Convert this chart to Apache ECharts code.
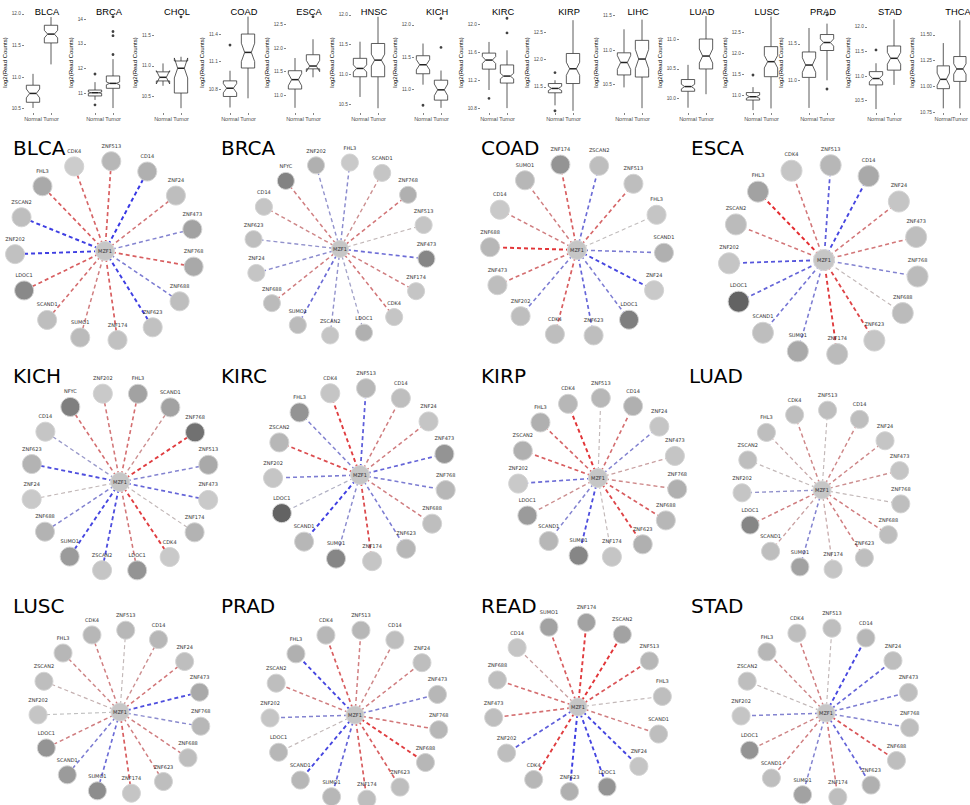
<!DOCTYPE html>
<html><head><meta charset="utf-8">
<script src="https://cdn.jsdelivr.net/npm/echarts@6/dist/echarts.min.js"></script>
<style>html,body{margin:0;padding:0;background:#fff}#c{width:970px;height:805px}</style>
</head><body><div id="c"></div>
<script>
// ================= Boxplot data (log2 read counts) =================
const boxCancers = ['BLCA','BRCA','CHOL','COAD','ESCA','HNSC','KICH','KIRC','KIRP','LIHC','LUAD','LUSC','PRAD','STAD','THCA'];
const groups = ['Normal','Tumor'];
// [whiskerLow, Q1, notchLow, median, notchHigh, Q3, whiskerHigh]
const normalStats = [
  [10.51,10.60,10.67,10.74,10.81,10.87,11.05],
  [10.73,10.89,10.99,11.02,11.05,11.13,11.45],
  [10.67,10.75,10.70,10.81,10.92,10.90,11.04],
  [10.60,10.72,10.76,10.81,10.86,10.89,11.00],
  [10.73,11.13,11.20,11.33,11.46,11.52,11.79],
  [10.62,10.96,11.04,11.10,11.16,11.27,11.55],
  [11.07,11.24,11.30,11.38,11.46,11.52,11.71],
  [11.06,11.36,11.44,11.49,11.54,11.59,11.75],
  [11.16,11.39,11.43,11.47,11.51,11.56,11.62],
  [10.46,10.64,10.72,10.82,10.92,10.96,11.30],
  [9.84,10.12,10.16,10.20,10.24,10.32,10.57],
  [10.64,10.88,10.92,10.96,11.00,11.06,11.19],
  [10.62,11.04,11.11,11.21,11.31,11.39,11.72],
  [10.33,10.82,10.88,10.95,11.02,11.09,11.26],
  [10.79,10.98,11.01,11.07,11.13,11.20,11.42]
];
const tumorStats = [
  [11.20,11.54,11.62,11.68,11.74,11.82,11.95],
  [10.40,11.20,11.34,11.40,11.46,11.70,12.38],
  [10.30,10.55,10.80,10.96,11.13,11.08,11.15],
  [10.70,11.03,11.10,11.20,11.30,11.40,11.59],
  [11.38,11.56,11.50,11.62,11.74,11.86,12.19],
  [10.43,10.96,11.14,11.24,11.34,11.52,11.97],
  [10.71,10.83,10.90,10.99,11.08,11.14,11.29],
  [10.80,11.16,11.22,11.26,11.30,11.42,11.63],
  [11.06,11.56,11.71,11.83,11.95,12.11,12.72],
  [10.16,10.61,10.73,10.87,11.01,11.14,11.44],
  [10.07,10.50,10.60,10.72,10.84,11.01,11.40],
  [10.68,11.44,11.65,11.80,11.95,12.16,12.88],
  [11.00,11.41,11.47,11.52,11.57,11.63,11.78],
  [10.82,11.12,11.24,11.36,11.48,11.61,12.15],
  [10.79,11.05,11.12,11.17,11.22,11.29,11.64]
];
const normalOutliers = [[],[11.78,10.53],[],[11.28],[],[],[10.75],[10.94],[11.76,11.06],[],[],[11.48],[],[11.53],[]];
const tumorOutliers  = [[],[14.10,13.50,13.33,12.57],[11.81],[],[12.67],[],[12.10,11.65],[12.09,11.88],[],[],[],[],[11.90,10.88],[],[]];
const yRanges = [[10.43,12.03],[10.20,14.29],[10.22,11.89],[10.54,11.64],[10.62,12.77],[10.35,12.05],[10.63,12.20],[10.73,12.18],[11.02,12.87],[10.09,11.55],[9.75,11.47],[10.57,12.99],[10.55,11.94],[10.25,12.30],[10.745,11.72]];
const yTickLabels = [
  ['10.5','11.0','11.5','12.0'],['11','12','13','14'],['10.5','11.0','11.5'],['10.8','11.1','11.4'],
  ['11.0','11.5','12.0','12.5'],['10.5','11.0','11.5','12.0'],['11.0','11.5','12.0'],['10.8','11.2','11.6','12.0'],
  ['11.5','12.0','12.5'],['10.5','11.0','11.5'],['10.0','10.5','11.0'],['11.0','11.5','12.0','12.5'],
  ['11.0','11.5'],['10.5','11.0','11.5','12.0'],['10.75','11.00','11.25','11.50']
];

// ================= Network data =================
// genes clockwise; expr: node shade level (0 light .. 1 dark); corr: edge correlation with MZF1 (-1 blue .. +1 red)
const hubGene = 'MZF1';
const BLCA_genes = ['CDK4','ZNF513','CD14','ZNF24','ZNF473','ZNF768','ZNF688','ZNF623','ZNF174','SUMO1','SCAND1','LDOC1','ZNF202','ZSCAN2','FHL3'];
const BLCA_expr  = [0.10,0.25,0.30,0.20,0.40,0.35,0.20,0.18,0.18,0.22,0.20,0.58,0.18,0.20,0.35];
const BLCA_corr  = [0.55,0.60,-0.90,0.45,-0.40,0.60,-0.45,-0.85,0.60,0.40,0.50,0.60,-0.85,-0.85,0.60];

const BRCA_genes = ['ZNF202','FHL3','SCAND1','ZNF768','ZNF513','ZNF473','ZNF174','CDK4','LDOC1','ZSCAN2','SUMO1','ZNF688','ZNF24','ZNF623','CD14','NFYC'];
const BRCA_expr  = [0.30,0.12,0.15,0.30,0.15,0.60,0.15,0.15,0.30,0.15,0.22,0.22,0.15,0.20,0.15,0.62];
const BRCA_corr  = [-0.30,-0.35,0.30,0.45,0.05,-0.55,0.40,0.45,-0.20,-0.30,-0.55,0.40,-0.35,-0.30,0.35,0.40];

const COAD_genes = ['ZNF174','ZSCAN2','ZNF513','FHL3','SCAND1','ZNF24','LDOC1','ZNF623','CDK4','ZNF202','ZNF473','ZNF688','CD14','SUMO1'];
const COAD_expr  = [0.50,0.20,0.20,0.15,0.30,0.12,0.65,0.20,0.20,0.20,0.20,0.25,0.12,0.25];
const COAD_corr  = [0.60,-0.55,0.55,0.02,-0.45,-0.80,-0.45,-0.60,0.60,-0.45,0.50,0.85,0.40,0.40];

const ESCA_genes = ['CDK4','ZNF513','CD14','ZNF24','ZNF473','ZNF768','ZNF688','ZNF623','ZNF174','SUMO1','SCAND1','LDOC1','ZNF202','ZSCAN2','FHL3'];
const ESCA_expr  = [0.15,0.25,0.35,0.15,0.20,0.22,0.22,0.15,0.22,0.35,0.20,0.85,0.15,0.22,0.40];
const ESCA_corr  = [0.45,-0.65,-0.80,0.45,0.45,-0.40,0.05,0.75,0.80,-0.45,-0.50,-0.60,-0.70,0.45,0.90];

const KICH_genes = ['ZNF202','FHL3','SCAND1','ZNF768','ZNF513','ZNF473','ZNF174','CDK4','LDOC1','ZSCAN2','SUMO1','ZNF688','ZNF24','ZNF623','CD14','NFYC'];
const KICH_expr  = [0.12,0.40,0.40,0.75,0.35,0.12,0.28,0.12,0.50,0.15,0.45,0.28,0.12,0.28,0.15,0.65];
const KICH_corr  = [0.45,0.50,0.30,0.80,-0.40,-0.60,0.05,0.80,0.45,-0.75,-0.80,-0.40,0.05,-0.75,-0.25,0.50];

const KIRC_genes = ['CDK4','ZNF513','CD14','ZNF24','ZNF473','ZNF768','ZNF688','ZNF623','ZNF174','SUMO1','SCAND1','LDOC1','ZNF202','ZSCAN2','FHL3'];
const KIRC_expr  = [0.15,0.25,0.20,0.15,0.50,0.25,0.20,0.25,0.15,0.60,0.25,0.85,0.15,0.25,0.50];
const KIRC_corr  = [0.80,-0.65,0.40,0.40,-0.60,-0.45,0.40,-0.45,0.70,-0.35,-0.85,-0.10,-0.45,0.70,-0.40];

const KIRP_genes = ['CDK4','ZNF513','CD14','ZNF24','ZNF473','ZNF768','ZNF688','ZNF623','ZNF174','SUMO1','SCAND1','LDOC1','ZNF202','ZSCAN2','FHL3'];
const KIRP_expr  = [0.25,0.25,0.30,0.15,0.15,0.30,0.25,0.30,0.15,0.60,0.25,0.45,0.12,0.30,0.30];
const KIRP_corr  = [0.85,0.05,0.50,-0.40,0.20,0.35,0.60,0.75,0.05,-0.75,-0.40,0.30,-0.55,0.60,0.55];

const LUAD_genes = ['CDK4','ZNF513','CD14','ZNF24','ZNF473','ZNF768','ZNF688','ZNF623','ZNF174','SUMO1','SCAND1','LDOC1','ZNF202','ZSCAN2','FHL3'];
const LUAD_expr  = [0.20,0.20,0.20,0.15,0.15,0.20,0.20,0.20,0.15,0.40,0.20,0.60,0.15,0.20,0.20];
const LUAD_corr  = [0.35,0.05,0.35,0.35,0.30,0.05,0.40,0.40,0.15,-0.40,0.20,0.40,-0.30,0.05,0.15];

const LUSC_genes = ['CDK4','ZNF513','CD14','ZNF24','ZNF473','ZNF768','ZNF688','ZNF623','ZNF174','SUMO1','SCAND1','LDOC1','ZNF202','ZSCAN2','FHL3'];
const LUSC_expr  = [0.25,0.25,0.25,0.20,0.35,0.25,0.20,0.20,0.15,0.55,0.45,0.50,0.15,0.20,0.25];
const LUSC_corr  = [0.40,0.05,0.30,0.45,-0.75,-0.35,0.40,0.40,0.60,-0.55,-0.45,0.40,0.00,0.10,0.35];

const PRAD_genes = ['CDK4','ZNF513','CD14','ZNF24','ZNF473','ZNF768','ZNF688','ZNF623','ZNF174','SUMO1','SCAND1','LDOC1','ZNF202','ZSCAN2','FHL3'];
const PRAD_expr  = [0.25,0.25,0.20,0.20,0.25,0.25,0.25,0.20,0.20,0.25,0.25,0.25,0.15,0.20,0.30];
const PRAD_corr  = [0.60,0.40,0.35,0.40,-0.45,0.45,0.80,0.60,0.60,-0.60,-0.80,0.05,-0.40,0.40,-0.80];

const READ_genes = ['SUMO1','ZNF174','ZSCAN2','ZNF513','FHL3','SCAND1','ZNF24','LDOC1','ZNF623','CDK4','ZNF202','ZNF473','ZNF688','CD14'];
const READ_expr  = [0.40,0.40,0.40,0.25,0.20,0.20,0.15,0.50,0.30,0.25,0.20,0.20,0.20,0.15];
const READ_corr  = [0.60,0.80,0.85,0.65,0.05,0.40,-0.80,-0.80,-0.85,0.80,-0.65,0.50,0.50,0.20];

const STAD_genes = ['CDK4','ZNF513','CD14','ZNF24','ZNF473','ZNF768','ZNF688','ZNF623','ZNF174','SUMO1','SCAND1','LDOC1','ZNF202','ZSCAN2','FHL3'];
const STAD_expr  = [0.20,0.20,0.25,0.20,0.20,0.20,0.20,0.30,0.20,0.40,0.20,0.50,0.15,0.20,0.25];
const STAD_corr  = [0.40,0.05,-0.80,-0.60,-0.45,-0.40,0.65,-0.60,0.45,-0.40,0.40,0.35,-0.40,0.05,0.35];

const netCancers = ['BLCA','BRCA','COAD','ESCA','KICH','KIRC','KIRP','LUAD','LUSC','PRAD','READ','STAD'];
const netGenes = [BLCA_genes,BRCA_genes,COAD_genes,ESCA_genes,KICH_genes,KIRC_genes,KIRP_genes,LUAD_genes,LUSC_genes,PRAD_genes,READ_genes,STAD_genes];
const netExpr  = [BLCA_expr,BRCA_expr,COAD_expr,ESCA_expr,KICH_expr,KIRC_expr,KIRP_expr,LUAD_expr,LUSC_expr,PRAD_expr,READ_expr,STAD_expr];
const netCorr  = [BLCA_corr,BRCA_corr,COAD_corr,ESCA_corr,KICH_corr,KIRC_corr,KIRP_corr,LUAD_corr,LUSC_corr,PRAD_corr,READ_corr,STAD_corr];

// ================= Layout (positions / sizes only) =================
const boxNormalX = [33,95,163,230,295,360,423,489,555,624,688,753,809,876,944];
const boxBand = 18, boxTop = 12, boxHeight = 101;
const netLayout = [
  {cx:105,cy:251,r:90,start:-20,size:19,tx:8,  ty:133},
  {cx:340,cy:249,r:87,start:-16,size:17,tx:216,ty:133},
  {cx:577,cy:250,r:87,start:-11,size:19,tx:476,ty:133},
  {cx:824,cy:260,r:95,start:-20,size:21,tx:686,ty:133},
  {cx:120,cy:482,r:90,start:-11,size:19,tx:8,  ty:361},
  {cx:360,cy:475,r:87,start:-20,size:19,tx:216,ty:361},
  {cx:598,cy:478,r:80,start:-22,size:19,tx:476,ty:361},
  {cx:822,cy:490,r:80,start:-20,size:18,tx:684,ty:361},
  {cx:120,cy:712,r:82,start:-20,size:18,tx:8,  ty:591},
  {cx:355,cy:715,r:85,start:-20,size:18,tx:216,ty:591},
  {cx:578,cy:707,r:85,start:-20,size:18,tx:476,ty:591},
  {cx:826,cy:713,r:85,start:-20,size:18,tx:686,ty:591}
];

// ================= helpers =================
function edgeColor(v){
  const g=[192,192,192], red=[232,28,32], blue=[40,40,232];
  const t=Math.min(1,Math.abs(v)); const e = v>=0?red:blue;
  const c=g.map((x,i)=>Math.round(x+(e[i]-x)*t));
  return 'rgb('+c.join(',')+')';
}
function nodeColor(l){ const v=Math.round(218-140*l); return 'rgb('+v+','+v+','+v+')'; }

const chart = echarts.init(document.getElementById('c'), null, {renderer:'svg'});
const option = {backgroundColor:'#fff', animation:false, grid:[], xAxis:[], yAxis:[], polar:[], angleAxis:[], radiusAxis:[], series:[], title:[]};

// ---- boxplot panels ----
boxCancers.forEach((name,i)=>{
  const left = boxNormalX[i]-boxBand/2;
  option.grid.push({left:left, top:boxTop, width:boxBand*2, height:boxHeight});
  const maxLen = Math.max(...yTickLabels[i].map(s=>s.length));
  option.xAxis.push({gridIndex:i, type:'category', data:groups, boundaryGap:true,
    axisLine:{show:false}, axisTick:{show:true, alignWithLabel:true, length:2, lineStyle:{color:'#333',width:0.6}},
    axisLabel:{fontSize:5.5, color:'#4d4d4d', margin:3, interval:0, fontFamily:'Liberation Sans'}});
  option.yAxis.push({gridIndex:i, type:'value', min:yRanges[i][0], max:yRanges[i][1],
    name:'log2(Read Counts)', nameLocation:'middle', nameRotate:90, nameGap: maxLen<=2?12:(maxLen>=5?20:16),
    nameTextStyle:{fontSize:6, color:'#000', fontFamily:'Liberation Sans'},
    axisLine:{show:false}, splitLine:{show:false},
    axisTick:{show:true, length:2, customValues:yTickLabels[i].map(Number), lineStyle:{color:'#333',width:0.6}},
    axisLabel:{fontSize:4.8, color:'#4d4d4d', margin:3, fontFamily:'Liberation Sans',
      customValues:yTickLabels[i].map(Number),
      formatter:(v)=>{const k=yTickLabels[i].findIndex(s=>Math.abs(Number(s)-v)<1e-6); return k>=0?yTickLabels[i][k]:'';}}});
  option.title.push({text:name, left:left+boxBand, top:2.5, textAlign:'center',
    textStyle:{fontSize:9.3, fontWeight:'normal', color:'#000', fontFamily:'Liberation Sans'}});
  option.series.push({type:'custom', xAxisIndex:i, yAxisIndex:i,
    data:[[0].concat(normalStats[i]), [1].concat(tumorStats[i])],
    encode:{x:0, y:[1,2,3,4,5,6,7]},
    renderItem:function(params, api){
      const x=api.value(0);
      const P=(k)=>api.coord([x, api.value(k)]);
      const cx=P(4)[0];
      const yWL=P(1)[1], yQ1=P(2)[1], yNL=P(3)[1], yM=P(4)[1], yNH=P(5)[1], yQ3=P(6)[1], yWH=P(7)[1];
      const bw=api.size([1,0])[0]*0.37, nw=bw*0.5;
      const st={stroke:'#333', lineWidth:0.8, fill:null};
      return {type:'group', children:[
        {type:'line', shape:{x1:cx,y1:yWL,x2:cx,y2:yQ1}, style:st},
        {type:'line', shape:{x1:cx,y1:yQ3,x2:cx,y2:yWH}, style:st},
        {type:'polygon', shape:{points:[[cx-bw,yQ3],[cx-bw,yNH],[cx-bw+nw,yM],[cx-bw,yNL],[cx-bw,yQ1],[cx+bw,yQ1],[cx+bw,yNL],[cx+bw-nw,yM],[cx+bw,yNH],[cx+bw,yQ3]]},
          style:{stroke:'#333', lineWidth:0.8, fill:'#fff'}},
        {type:'line', shape:{x1:cx-bw+nw,y1:yM,x2:cx+bw-nw,y2:yM}, style:{stroke:'#222', lineWidth:1.5}}
      ]};
    }});
  const outs=[];
  normalOutliers[i].forEach(v=>outs.push([0,v]));
  tumorOutliers[i].forEach(v=>outs.push([1,v]));
  option.series.push({type:'scatter', xAxisIndex:i, yAxisIndex:i, data:outs, symbolSize:2.8, itemStyle:{color:'#111'}, silent:true});
});

// ---- network panels ----
netCancers.forEach((name,k)=>{
  const L=netLayout[k];
  option.polar.push({center:[L.cx,L.cy], radius:L.r});
  option.angleAxis.push({polarIndex:k, type:'value', min:0, max:360, startAngle:90, clockwise:true, show:false});
  option.radiusAxis.push({polarIndex:k, type:'value', min:0, max:1, show:false});
  const genes=netGenes[k], n=genes.length;
  const lbl={color:'#333', textBorderWidth:0};
  const nodes=[{name:hubGene, value:[0,0], itemStyle:{color:'#c6c6c6', borderColor:'#dadada'}, label:Object.assign({position:'inside'},lbl)}];
  const links=[];
  genes.forEach((g,j)=>{
    const ang=((L.start+j*360/n)%360+360)%360;
    nodes.push({name:g, value:[1,ang], itemStyle:{color:nodeColor(netExpr[k][j])}, label:lbl});
    const c=netCorr[k][j];
    links.push({source:hubGene, target:g, lineStyle:{color:edgeColor(c), width:1.1+1.0*Math.abs(c)}});
  });
  option.series.push({type:'graph', coordinateSystem:'polar', polarIndex:k, layout:'none', silent:true,
    symbol:'circle', symbolSize:L.size,
    itemStyle:{borderColor:'#d4d4d4', borderWidth:1},
    label:{show:true, position:'top', distance:3, fontSize:5, color:'#333', fontFamily:'DejaVu Sans'},
    lineStyle:{type:[4,3], opacity:1, curveness:0},
    data:nodes, links:links});
  option.title.push({text:name, left:L.tx, top:L.ty, textStyle:{fontSize:20, fontWeight:'normal', color:'#000', fontFamily:'DejaVu Sans'}});
});

chart.setOption(option);
</script>
</body></html>
